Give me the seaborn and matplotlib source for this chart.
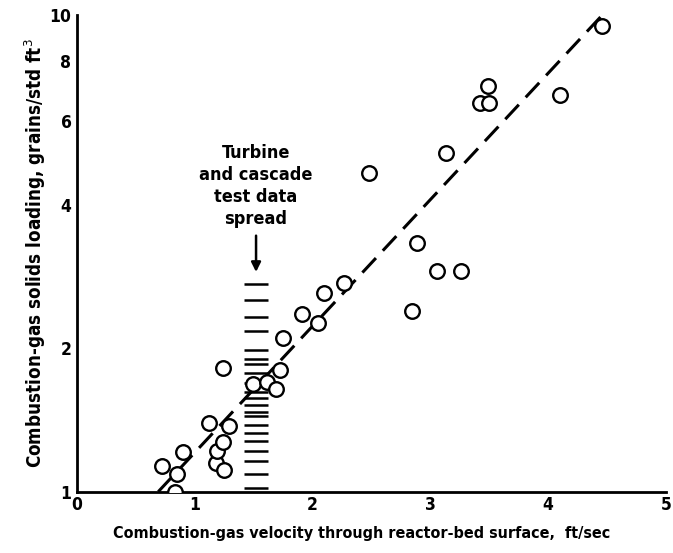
import matplotlib
matplotlib.use("Agg")
import matplotlib.pyplot as plt
import seaborn as sns
import numpy as np
import pandas as pd
from matplotlib.ticker import FixedLocator, NullFormatter

# ---- data ----
vel = [0.72, 0.83, 0.85, 0.90, 1.12, 1.18, 1.19, 1.24, 1.24, 1.25, 1.29,
       1.49, 1.61, 1.69, 1.72, 1.75, 1.91, 2.05, 2.10, 2.27, 2.48, 2.84,
       2.89, 3.06, 3.13, 3.26, 3.42, 3.49, 3.50, 4.10, 4.46]
loading = [1.13, 1.00, 1.09, 1.21, 1.39, 1.15, 1.22, 1.27, 1.82, 1.11, 1.37,
           1.68, 1.70, 1.64, 1.80, 2.10, 2.36, 2.26, 2.61, 2.74, 4.67, 2.39,
           3.32, 2.91, 5.13, 2.91, 6.53, 7.10, 6.53, 6.79, 9.48]
fit_vel = [0.69, 4.46]
fit_loading = [1.0, 10.0]
spread_vel = 1.52
spread_loading = [2.73, 2.52, 2.33, 2.17, 1.98, 1.90, 1.85, 1.77, 1.69, 1.62,
                  1.57, 1.52, 1.47, 1.44, 1.38, 1.33, 1.28, 1.22, 1.16, 1.09, 1.02]
x_ticks = [0, 1, 2, 3, 4, 5]
y_major = [1, 2, 4, 6, 8, 10]
y_minor = [3, 5, 7, 9]
annotation = "Turbine\nand cascade\ntest data\nspread"
xlabel = "Combustion-gas velocity through reactor-bed surface,  ft/sec"
ylabel = "Combustion-gas solids loading, grains/std ft$^3$"

sns.set_style("white")
plt.rcParams['font.family'] = ['DejaVu Sans']
plt.rcParams['font.stretch'] = 'condensed'
plt.rcParams['text.color'] = 'black'
plt.rcParams['axes.labelcolor'] = 'black'
plt.rcParams['mathtext.fontset'] = 'dejavusans'

fig = plt.figure(figsize=(6.73, 5.53), dpi=100)
ax = fig.add_axes([0.1144, 0.1109, 0.8752, 0.862])

df = pd.DataFrame({"v": vel, "l": loading})
fit = pd.DataFrame({"v": fit_vel, "l": fit_loading})

sns.lineplot(data=fit, x="v", y="l", ax=ax, color="black", lw=2.2,
             linestyle=(0, (6.5, 3.3)), zorder=2)
sns.scatterplot(data=df, x="v", y="l", ax=ax, marker="o", s=110,
                facecolor="white", edgecolor="black", linewidth=1.7, zorder=3)
ax.hlines(spread_loading, spread_vel - 0.1, spread_vel + 0.1,
          color="black", lw=1.8, zorder=1)

ax.set_yscale("log")
ax.set_xlim(0, 5)
ax.set_ylim(1, 10)
ax.xaxis.set_major_locator(FixedLocator(x_ticks))
ax.set_xticklabels([str(t) for t in x_ticks])
ax.yaxis.set_major_locator(FixedLocator(y_major))
ax.yaxis.set_minor_locator(FixedLocator(y_minor))
ax.yaxis.set_minor_formatter(NullFormatter())
ax.set_yticklabels([str(t) for t in y_major])

for s in ["top", "right"]:
    ax.spines[s].set_visible(False)
for s in ["left", "bottom"]:
    ax.spines[s].set_linewidth(2)
    ax.spines[s].set_color("black")

ax.tick_params(axis="both", which="major", direction="in", length=12, width=2,
               labelsize=12.5, colors="black", pad=4)
ax.tick_params(axis="x", which="major", length=16, pad=3)
ax.tick_params(axis="y", which="minor", direction="in", length=9, width=2)
for lab in ax.get_xticklabels() + ax.get_yticklabels():
    lab.set_fontweight("bold")

ax.set_xlabel(xlabel, fontsize=11.5, fontweight="bold", labelpad=3)
ax.xaxis.set_label_coords(0.483, -0.072)
ax.set_ylabel(ylabel, fontsize=13.5, fontweight="bold", labelpad=1)

ax.annotate(annotation, xy=(1.52, 2.89), xytext=(1.52, 3.57),
            ha="center", va="bottom", fontsize=13, fontweight="bold",
            linespacing=1.3,
            arrowprops=dict(arrowstyle="-|>", color="black", lw=1.8,
                            mutation_scale=14, shrinkA=3, shrinkB=0))

fig.savefig("out.png", dpi=100)
